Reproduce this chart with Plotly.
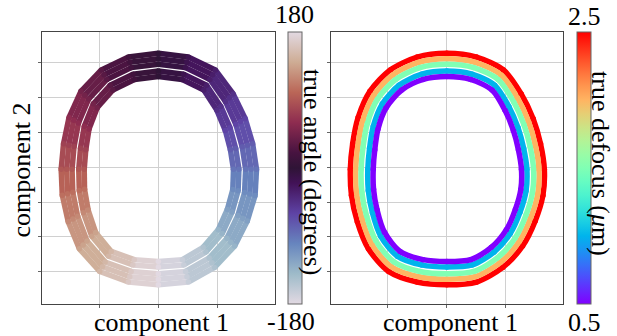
import numpy as np
import plotly.graph_objects as go
from plotly.colors import sample_colorscale

# ---------------- data ----------------
# polar direction of each reading around the ring centre (0 = top, counter-clockwise)
DIRECTION_DEG = [0, 15, 30, 45, 60, 75, 90, 105, 120, 135, 150, 165,
                 180, 195, 210, 225, 240, 255, 270, 285, 300, 315, 330, 345]
# true angle label of the samples found at that direction (colour of left panel)
TRUE_ANGLE_DEG = [0, 15, 30, 45, 60, 75, 90, 105, 120, 135, 150, 165,
                  180, -165, -150, -135, -120, -105, -90, -75, -60, -45, -30, -15]
RING_CENTER = (0.0, -2.0)

DEFOCUS_UM = [2.5, 2.0, 1.5, 1.0, 0.5]
RADIUS_DF25 = [116.6, 116.8, 115.3, 110.8, 104.3, 99.3, 98.3, 100.6, 105.3, 113.0, 118.6, 117.3,
               116.0, 117.3, 113.9, 109.1, 103.9, 101.3, 99.3, 98.8, 101.5, 107.1, 115.3, 116.8]
RADIUS_DF20 = [111.1, 111.3, 109.8, 105.3, 98.8, 93.8, 92.8, 95.1, 99.8, 107.5, 113.1, 111.8,
               110.5, 111.8, 108.4, 103.6, 98.4, 95.8, 93.8, 93.3, 96.0, 101.6, 109.8, 111.3]
RADIUS_DF15 = [105.6, 105.8, 104.3, 99.8, 93.3, 88.3, 87.3, 89.6, 94.3, 102.0, 107.6, 106.3,
               105.0, 106.3, 102.9, 98.1, 92.9, 90.3, 88.3, 87.8, 90.5, 96.1, 104.3, 105.8]
RADIUS_DF10 = [98.8, 99.0, 97.5, 93.0, 86.5, 81.5, 80.5, 82.8, 87.5, 95.2, 100.8, 99.5,
               98.2, 99.5, 96.1, 91.3, 86.1, 83.5, 81.5, 81.0, 83.7, 89.3, 97.5, 99.0]
RADIUS_DF05 = [93.3, 93.5, 92.0, 87.5, 81.0, 76.0, 75.0, 77.3, 82.0, 89.7, 95.3, 94.0,
               92.7, 94.0, 90.6, 85.8, 80.6, 78.0, 76.0, 75.5, 78.2, 83.8, 92.0, 93.5]
RING_RADII = [RADIUS_DF25, RADIUS_DF20, RADIUS_DF15, RADIUS_DF10, RADIUS_DF05]

X_TICKS = [-60, 0, 60]
Y_TICKS = [-105, -70, -35, 0, 35, 70, 105]
ANGLE_RANGE = [-180, 180]
DEFOCUS_RANGE = [0.5, 2.5]
ANGLE_LABELS = ["180", "-180"]
DEFOCUS_LABELS = ["2.5", "0.5"]

# ---------------- colour scales ----------------
TWILIGHT = [[0.0, "rgb(226,217,226)"], [0.111, "rgb(158,187,201)"], [0.222, "rgb(103,133,190)"],
            [0.333, "rgb(94,67,165)"], [0.444, "rgb(66,18,87)"], [0.5, "rgb(47,20,54)"],
            [0.556, "rgb(71,19,64)"], [0.667, "rgb(142,44,80)"], [0.778, "rgb(186,102,87)"],
            [0.889, "rgb(206,172,148)"], [1.0, "rgb(226,217,226)"]]


def _rainbow(n=21):
    out = []
    for t in np.linspace(0, 1, n):
        r = min(1.0, abs(2 * t - 0.5))
        g = np.sin(np.pi * t)
        b = np.cos(np.pi * t / 2)
        out.append([float(t), "rgb(%d,%d,%d)" % (round(r * 255), round(g * 255), round(b * 255))])
    return out


RAINBOW = _rainbow()

FONT = "Liberation Serif"
FS = 26
W, H = 617, 336


def px_x(p):
    return p / W


def px_y(p):
    return 1 - p / H


LINE_W = 5.5

fig = go.Figure()

d = np.deg2rad(np.array(DIRECTION_DEG, dtype=float))
ring_xy = []
for radii in RING_RADII:
    r = np.array(radii, dtype=float)
    ring_xy.append((RING_CENTER[0] - np.sin(d) * r, RING_CENTER[1] + np.cos(d) * r))

n = len(DIRECTION_DEG)

# ---------------- left panel: coloured by true angle ----------------
for rx, ry in ring_xy:
    for i in range(n):
        j = (i + 1) % n
        a0, a1 = TRUE_ANGLE_DEG[i], TRUE_ANGLE_DEG[j]
        if a1 - a0 > 180:
            a1 -= 360
        elif a0 - a1 > 180:
            a1 += 360
        mid = (a0 + a1) / 2
        mid = (mid + 180) % 360 - 180
        col = sample_colorscale(TWILIGHT, [(mid - ANGLE_RANGE[0]) / (ANGLE_RANGE[1] - ANGLE_RANGE[0])])[0]
        fig.add_trace(go.Scatter(x=[rx[i], rx[j]], y=[ry[i], ry[j]], mode="lines",
                                 line=dict(color=col, width=LINE_W), hoverinfo="skip",
                                 showlegend=False, xaxis="x", yaxis="y"))

all_x = np.concatenate([xy[0] for xy in ring_xy])
all_y = np.concatenate([xy[1] for xy in ring_xy])
all_angle = np.tile(np.array(TRUE_ANGLE_DEG, dtype=float), len(ring_xy))
all_def = np.repeat(np.array(DEFOCUS_UM, dtype=float), n)

fig.add_trace(go.Scatter(
    x=all_x, y=all_y, mode="markers", xaxis="x", yaxis="y", showlegend=False,
    marker=dict(size=LINE_W, color=all_angle, colorscale=TWILIGHT,
                cmin=ANGLE_RANGE[0], cmax=ANGLE_RANGE[1], showscale=True,
                colorbar=dict(x=px_x(288), xanchor="left", xpad=0, ypad=0,
                              y=0.5, yanchor="middle", len=272 / H, lenmode="fraction",
                              thickness=14, thicknessmode="pixels",
                              outlinewidth=1, outlinecolor="#666666",
                              showticklabels=False, ticks=""))))

# ---------------- right panel: coloured by defocus ----------------
for (rx, ry), dfc in zip(ring_xy, DEFOCUS_UM):
    col = sample_colorscale(RAINBOW, [(dfc - DEFOCUS_RANGE[0]) / (DEFOCUS_RANGE[1] - DEFOCUS_RANGE[0])])[0]
    fig.add_trace(go.Scatter(x=np.append(rx, rx[0]), y=np.append(ry, ry[0]), mode="lines",
                             line=dict(color=col, width=LINE_W, shape="spline", smoothing=0.8),
                             hoverinfo="skip", showlegend=False, xaxis="x2", yaxis="y2"))

fig.add_trace(go.Scatter(
    x=all_x, y=all_y, mode="markers", xaxis="x2", yaxis="y2", showlegend=False,
    marker=dict(size=LINE_W, color=all_def, colorscale=RAINBOW,
                cmin=DEFOCUS_RANGE[0], cmax=DEFOCUS_RANGE[1], showscale=True,
                colorbar=dict(x=px_x(577.3), xanchor="left", xpad=0, ypad=0,
                              y=0.5, yanchor="middle", len=272 / H, lenmode="fraction",
                              thickness=13.5, thicknessmode="pixels",
                              outlinewidth=1, outlinecolor="#666666",
                              showticklabels=False, ticks=""))))

axis_common = dict(showticklabels=False, ticks="outside", ticklen=3, tickcolor="#666666",
                   showgrid=True, gridcolor="#d0d0d0", gridwidth=1, zeroline=False,
                   showline=True, linecolor="#444444", linewidth=1, mirror=True,
                   fixedrange=True)

yd = [1 - 304 / H, 1 - 32 / H]
fig.update_layout(
    width=W, height=H, margin=dict(l=0, r=0, t=0, b=0),
    paper_bgcolor="white", plot_bgcolor="white", showlegend=False,
    font=dict(family=FONT, size=FS, color="black"),
    xaxis=dict(domain=[px_x(41.7), px_x(275)], range=[-118, 118], tickvals=X_TICKS, **axis_common),
    yaxis=dict(domain=yd, range=[-137.4, 136.0], tickvals=Y_TICKS, **axis_common),
    xaxis2=dict(domain=[px_x(331), px_x(562.7)], range=[-118, 118], tickvals=X_TICKS,
                anchor="y2", **axis_common),
    yaxis2=dict(domain=yd, range=[-137.4, 136.0], tickvals=Y_TICKS, anchor="x2", **axis_common),
)

ann = []


def add_text(text, x, y, angle=0):
    ann.append(dict(text=text, x=px_x(x), y=px_y(y), xref="paper", yref="paper",
                    showarrow=False, textangle=angle, xanchor="center", yanchor="middle",
                    font=dict(family=FONT, size=FS, color="black")))


add_text(ANGLE_LABELS[0], 294, 15)
add_text(ANGLE_LABELS[1], 291, 321.5)
add_text(DEFOCUS_LABELS[0], 584, 16)
add_text(DEFOCUS_LABELS[1], 584, 322)
add_text("true angle (degrees)", 313, 172, 90)
add_text("true defocus (<i>μ</i>m)", 601, 163, 90)
add_text("component 1", 162, 322)
add_text("component 1", 451, 322)
add_text("component 2", 20.5, 170, -90)
fig.update_layout(annotations=ann)

fig.write_html("out.html", config={"displayModeBar": False},
               post_script="document.body.style.margin='0';document.body.style.overflow='hidden';")
